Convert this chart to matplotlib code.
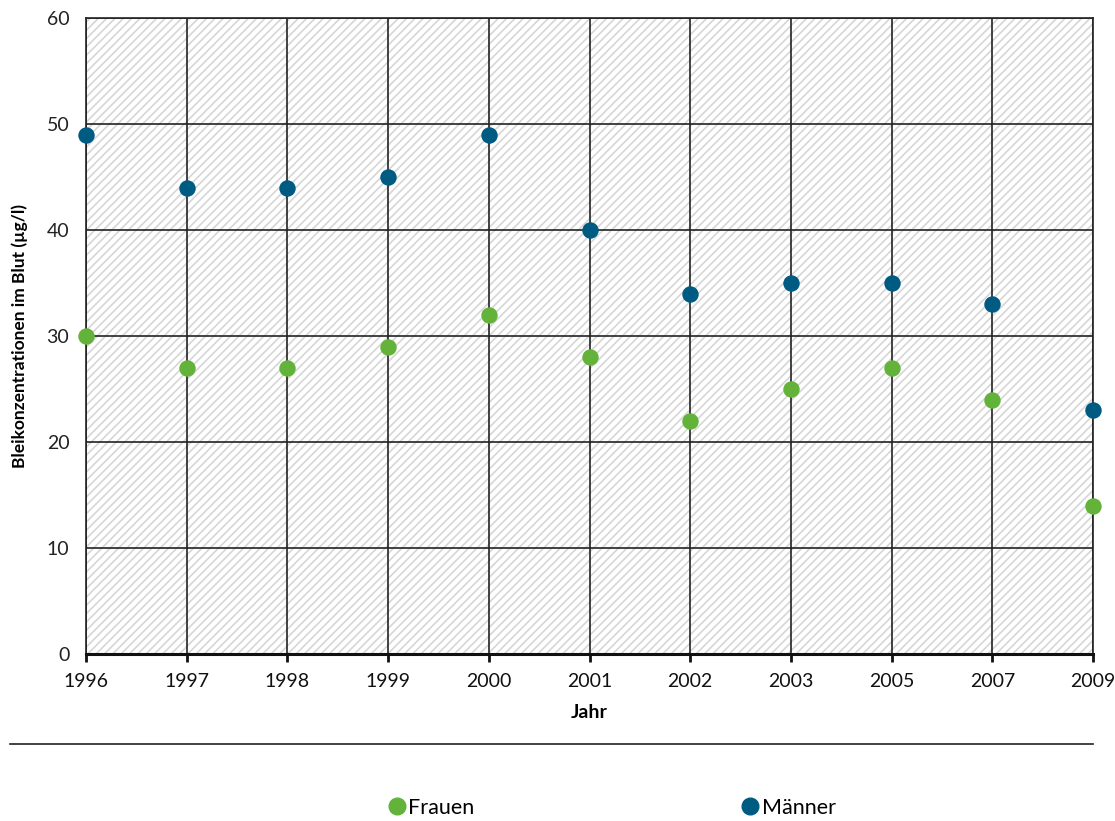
import numpy as np
import matplotlib.pyplot as plt
from matplotlib.lines import Line2D

plt.rcParams['font.family'] = ['Lato', 'DejaVu Sans']
plt.rcParams['hatch.linewidth'] = 1.2
plt.rcParams['hatch.color'] = '#d6d6d6'

years = ['1996', '1997', '1998', '1999', '2000', '2001', '2002', '2003', '2005', '2007', '2009']
frauen = [30, 27, 27, 29, 32, 28, 22, 25, 27, 24, 14]
maenner = [49, 44, 44, 45, 49, 40, 34, 35, 35, 33, 23]

green = '#63b33a'
blue = '#005b82'

fig = plt.figure(figsize=(11.15, 8.21), dpi=100)
ax = fig.add_axes([0.0771, 0.2034, 0.9032, 0.7746])

x = np.arange(len(years))
ax.set_xlim(0, len(years) - 1)
ax.set_ylim(0, 60)

# hatched plot background
ax.patch.set_facecolor('white')
ax.patch.set_hatch('////')
ax.patch.set_edgecolor('#d6d6d6')
ax.patch.set_linewidth(0)

ax.set_axisbelow(True)
ax.grid(True, color='#222222', linewidth=1.2)
ax.set_yticks(np.arange(0, 61, 10))
ax.set_xticks(x)
ax.set_xticklabels(years)

ax.scatter(x, frauen, s=140, color=green, zorder=3, clip_on=False, linewidths=0)
ax.scatter(x, maenner, s=140, color=blue, zorder=3, clip_on=False, linewidths=0)

for side in ['top', 'right', 'left']:
    ax.spines[side].set_color('#222222')
    ax.spines[side].set_linewidth(1.2)
ax.spines['bottom'].set_color('#111111')
ax.spines['bottom'].set_linewidth(2.2)

ax.tick_params(axis='x', direction='out', length=6, width=2, colors='#111111',
               labelsize=14, pad=8)
ax.tick_params(axis='y', length=0, labelsize=14, pad=12, colors='#222222')

ax.set_xlabel('Jahr', fontsize=14, fontweight='bold', labelpad=10)
ax.set_ylabel('Bleikonzentrationen im Blut (µg/l)', fontsize=12.5, fontweight='bold', labelpad=13)

# separator line above legend
fig.add_artist(Line2D([10 / 1115, 1093 / 1115], [1 - 744 / 821, 1 - 744 / 821],
                      color='#222222', linewidth=1.2))

handles = [Line2D([], [], linestyle='none', marker='o', markersize=12, color=green),
           Line2D([], [], linestyle='none', marker='o', markersize=12, color=blue)]
fig.legend(handles, ['Frauen', 'Männer'], loc='center', bbox_to_anchor=(0.548, 1 - 808 / 821),
           ncol=2, frameon=False, fontsize=15.5, handletextpad=0.05, columnspacing=12.3,
           handlelength=1.0)

fig.savefig('out.png', dpi=100)
